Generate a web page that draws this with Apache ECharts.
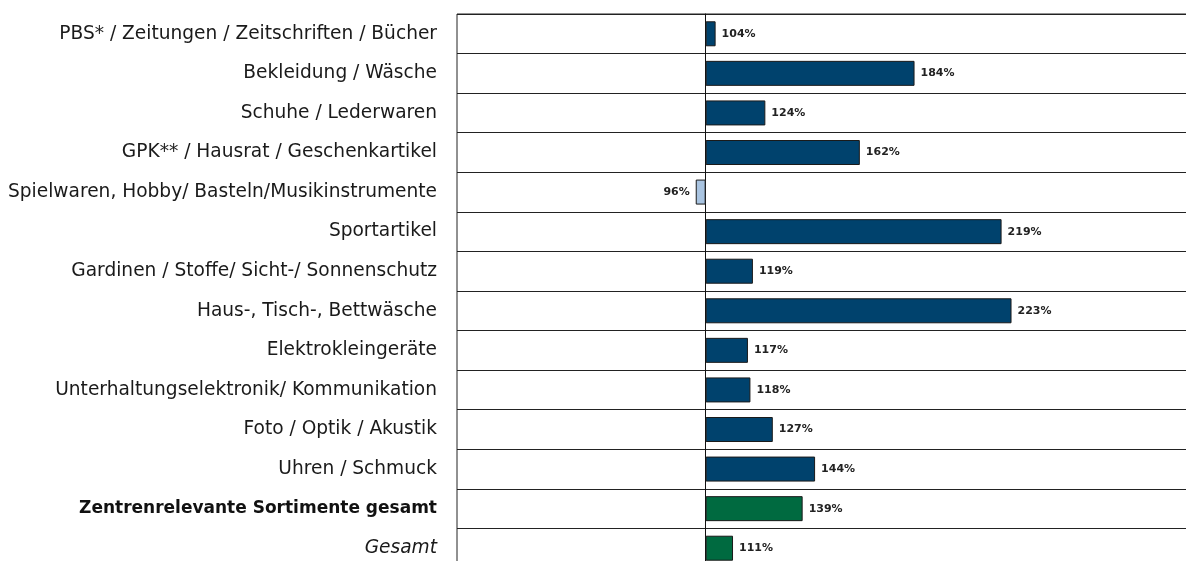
<!DOCTYPE html>
<html>
<head>
<meta charset="utf-8">
<script src="https://cdn.jsdelivr.net/npm/echarts@6/dist/echarts.min.js"></script>
<style>
	html, body { margin: 0; padding: 0; background: #fff; overflow: hidden; }
	#chart { width: 1220px; height: 580px; }
</style>
</head>
<body>
<div id="chart"></div>
<script>
var categories = [
	'PBS* / Zeitungen / Zeitschriften / Bücher',
	'Bekleidung / Wäsche',
	'Schuhe / Lederwaren',
	'GPK** / Hausrat / Geschenkartikel',
	'Spielwaren, Hobby/ Basteln/Musikinstrumente',
	'Sportartikel',
	'Gardinen / Stoffe/ Sicht-/ Sonnenschutz',
	'Haus-, Tisch-, Bettwäsche',
	'Elektrokleingeräte',
	'Unterhaltungselektronik/ Kommunikation',
	'Foto / Optik / Akustik',
	'Uhren / Schmuck',
	'Zentrenrelevante Sortimente gesamt',
	'Gesamt'
];
var values = [104, 184, 124, 162, 96, 219, 119, 223, 117, 118, 127, 144, 139, 111];
// art der zeile: einzelsortiment, summe zentrenrelevant, gesamt
var kinds = ['item', 'item', 'item', 'item', 'item', 'item', 'item', 'item', 'item', 'item', 'item', 'item', 'sum', 'total'];
var baseValue = 100;

var chart = echarts.init(document.getElementById('chart'));

function barColor(i) {
	if (kinds[i] != 'item') return '#006a40';
	if (values[i] < baseValue) return '#a9c4e1';
	return '#00426d';
}

var seriesData = [];
for (var i = 0; i < values.length; i++) {
	seriesData.push({
		value: values[i] - baseValue,
		itemStyle: { color: barColor(i) },
		label: { position: values[i] < baseValue ? 'left' : 'right' }
	});
}

var option = {
	animation: false,
	grid: {
		left: 457,
		top: 14,
		width: 746,
		height: 554,
		show: true,
		borderColor: '#222',
		borderWidth: 1
	},
	xAxis: {
		type: 'value',
		min: -100,
		max: 200,
		show: false
	},
	yAxis: {
		type: 'category',
		data: categories,
		inverse: true,
		axisTick: { show: false },
		axisLine: {
			onZero: true,
			lineStyle: { color: '#111', width: 1 }
		},
		splitLine: {
			show: true,
			lineStyle: { color: '#222', width: 1 }
		},
		axisLabel: {
			margin: 20,
			fontFamily: 'DejaVu Sans',
			fontSize: 18.6,
			color: '#1a1a1a',
			formatter: function(val, idx) {
				if (kinds[idx] == 'sum') return '{b|' + val + '}';
				if (kinds[idx] == 'total') return '{i|' + val + '}';
				return val;
			},
			rich: {
				b: { fontFamily: 'DejaVu Sans', fontSize: 17, fontWeight: 'bold', color: '#111' },
				i: { fontFamily: 'DejaVu Sans', fontSize: 18.6, fontStyle: 'italic', color: '#1a1a1a' }
			}
		}
	},
	series: [{
		type: 'bar',
		data: seriesData,
		barWidth: 25,
		itemStyle: {
			borderColor: '#1a1a1a',
			borderWidth: 1
		},
		label: {
			show: true,
			distance: 6,
			fontFamily: 'DejaVu Sans',
			fontSize: 11,
			fontWeight: 'bold',
			color: '#222',
			formatter: function(p) {
				return values[p.dataIndex] + '%';
			}
		}
	}]
};
chart.setOption(option);
</script>
</body>
</html>
